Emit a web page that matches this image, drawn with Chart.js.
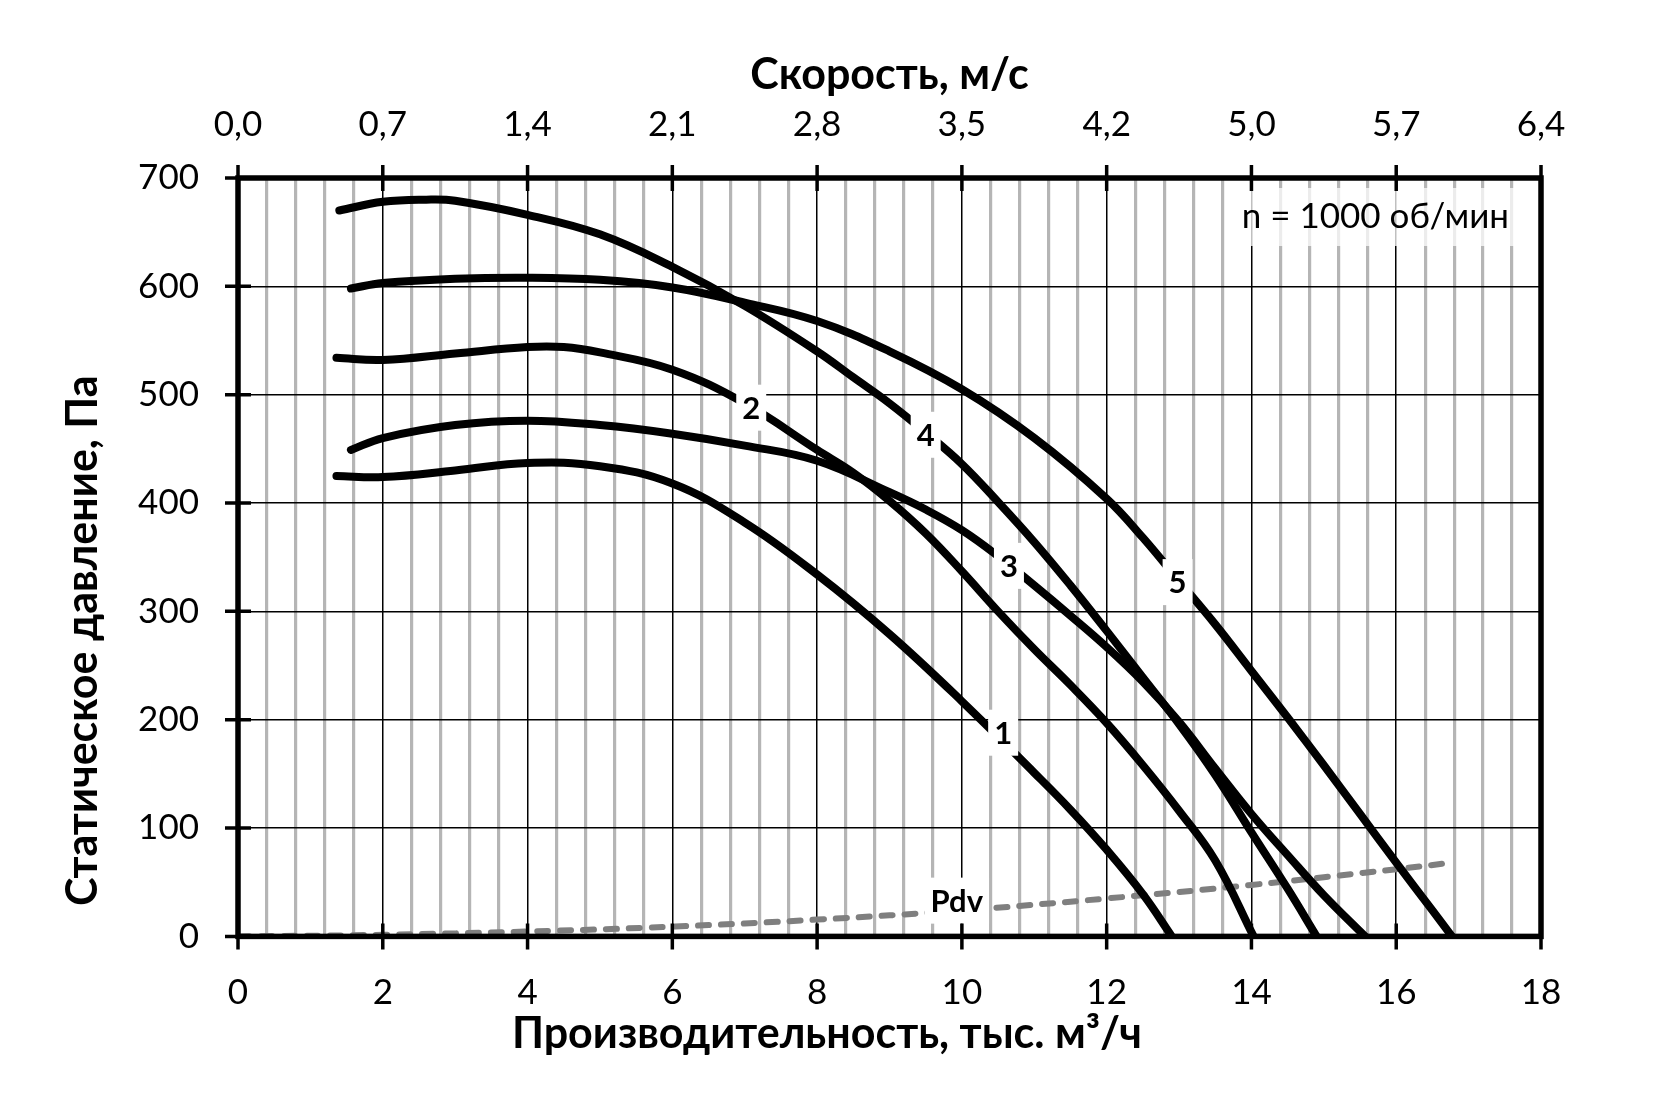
<!DOCTYPE html>
<html>
<head>
<meta charset="utf-8">
<script src="https://cdn.jsdelivr.net/npm/chart.js@4.4.1/dist/chart.umd.min.js"></script>
<style>
  html, body { margin: 0; padding: 0; background: #fff; }
  #wrap { width: 1654px; height: 1103px; }
</style>
</head>
<body>
<div id="wrap"><canvas id="fanChart" width="1654" height="1103"></canvas></div>
<script>
// flow, thousand m3/h  ->  static pressure, Pa
const q1 = [1.36, 2, 3, 4, 5, 6, 7, 8, 9, 10, 11, 11.5, 12, 12.5, 12.9];
const p1 = [425, 424, 430, 437, 434, 418, 382, 334, 279, 217, 151, 117, 80, 39, 0];

const q2 = [1.36, 2, 3, 4, 4.5, 5, 6, 7, 8, 8.5, 9, 9.5, 10, 10.5, 11, 11.5, 12, 12.5, 13, 13.5, 14.03];
const p2 = [534, 532, 538, 544, 544, 539, 523, 492, 449, 428, 402, 372, 337, 300, 265, 232, 197, 158, 116, 70, 0];

const q3 = [1.56, 2, 3, 4, 5, 6, 7, 8, 9, 9.5, 10, 10.5, 11, 11.5, 12, 12.5, 13, 13.5, 14, 14.5, 15, 15.57];
const p3 = [449, 460, 472, 476, 472, 464, 453, 439, 410, 394, 375, 351, 324, 296, 267, 235, 198, 155, 113, 75, 38, 0];

const q4 = [1.4, 2, 2.6, 3, 4, 5, 6, 7, 8, 8.5, 9, 9.5, 10, 10.5, 11, 11.5, 12, 12.5, 13, 13.5, 14, 14.5, 14.9];
const p4 = [670, 678, 680, 679, 666, 648, 618, 582, 540, 516, 492, 465, 436, 401, 364, 324, 282, 239, 196, 149, 96, 44, 0];

const q5 = [1.56, 2, 3, 4, 5, 6, 7, 8, 9, 10, 11, 12, 12.5, 13, 13.5, 14, 14.5, 15, 15.5, 16, 16.5, 16.77];
const p5 = [598, 603, 607, 608, 606, 599, 585, 568, 540, 505, 460, 404, 368, 328, 288, 245, 202, 158, 113, 68, 24, 0];

// dynamic pressure
const qPdv = [0, 2, 4, 6, 8, 10, 12, 14, 16, 16.7];
const pPdv = [0, 1.5, 4.5, 9, 15.5, 24, 35, 47.5, 62, 67.5];

// top axis: air speed, m/s
const speedTicks = ['0,0', '0,7', '1,4', '2,1', '2,8', '3,5', '4,2', '5,0', '5,7', '6,4'];

// curve captions
const captionText = ['1', '2', '3', '4', '5', 'Pdv'];
const captionQ = [10.57, 7.09, 10.65, 9.5, 12.98, 9.93];
const captionP = [188, 488, 342, 463, 327, 33];

const FONT = 'Lato, "Open Sans", sans-serif';

function points(q, p) {
    return q.map((v, i) => ({ x: v, y: p[i] }));
}

function isMajor(v) {
    return Math.abs(v / 2 - Math.round(v / 2)) < 1e-6;
}

function curve(q, p) {
    return {
        data: points(q, p),
        borderColor: '#000',
        borderWidth: 8,
        borderCapStyle: 'round',
        tension: 0.4,
        pointRadius: 0,
        clip: 0,
        xAxisID: 'x',
        yAxisID: 'y'
    };
}

// frame, cross ticks, captions on white boxes, y title
const decorations = {
    id: 'decorations',
    afterDatasetsDraw(chart) {
        const { ctx, chartArea: a, scales } = chart;
        const x = scales.x, y = scales.y;
        ctx.save();

        ctx.font = 'bold 31px ' + FONT;
        ctx.textAlign = 'center';
        ctx.textBaseline = 'middle';
        captionText.forEach((t, i) => {
            const px = x.getPixelForValue(captionQ[i]);
            const py = y.getPixelForValue(captionP[i]);
            const w = ctx.measureText(t).width + 12;
            ctx.fillStyle = '#fff';
            ctx.fillRect(px - w / 2, py - 23, w, 46);
            ctx.fillStyle = '#000';
            ctx.fillText(t, px, py + 1);
        });

        // speed note
        ctx.font = '35px ' + FONT;
        ctx.textAlign = 'right';
        const note = 'n = 1000 об/мин';
        const nw = ctx.measureText(note).width;
        const nx = a.right - 32, ny = a.top + 39;
        ctx.fillStyle = 'rgba(255,255,255,0.75)';
        ctx.fillRect(nx - nw - 12, ny - 29, nw + 28, 58);
        ctx.fillStyle = '#000';
        ctx.fillText(note, nx, ny);

        ctx.strokeStyle = '#000';
        ctx.lineWidth = 5.5;
        ctx.strokeRect(a.left, a.top, a.right - a.left, a.bottom - a.top);

        ctx.lineWidth = 3.5;
        ctx.beginPath();
        y.ticks.forEach(t => {
            const py = y.getPixelForValue(t.value);
            ctx.moveTo(a.left - 13, py);
            ctx.lineTo(a.left + 13, py);
        });
        scales.x2.ticks.forEach(t => {
            const px = x.getPixelForValue(t.value);
            ctx.moveTo(px, a.top - 13);
            ctx.lineTo(px, a.top + 13);
            ctx.moveTo(px, a.bottom - 13);
            ctx.lineTo(px, a.bottom + 13);
        });
        ctx.stroke();

        // y axis title sits a bit below the middle of the axis in the original
        ctx.translate(83, a.top + (a.bottom - a.top) * 0.61);
        ctx.rotate(-Math.PI / 2);
        ctx.font = 'bold 43px ' + FONT;
        ctx.textAlign = 'center';
        ctx.fillStyle = '#000';
        ctx.fillText('Статическое давление, Па', 0, 0);
        ctx.restore();
    }
};

const ctx = document.getElementById('fanChart').getContext('2d');
const fanChart = new Chart(ctx, {
    type: 'line',
    data: {
        datasets: [
            curve(q1, p1),
            curve(q2, p2),
            curve(q3, p3),
            curve(q4, p4),
            curve(q5, p5),
            {
                data: points(qPdv, pPdv),
                borderColor: '#7f7f7f',
                borderWidth: 6,
                borderDash: [11, 12],
                borderCapStyle: 'round',
                tension: 0.4,
                pointRadius: 0,
                clip: 0,
                xAxisID: 'x',
                yAxisID: 'y'
            }
        ]
    },
    options: {
        responsive: false,
        animation: false,
        devicePixelRatio: 1,
        layout: { padding: 0 },
        plugins: {
            legend: { display: false },
            tooltip: { enabled: false },
            title: {
                display: true,
                position: 'bottom',
                text: 'Производительность, тыс. м³/ч',
                color: '#000',
                font: { family: FONT, size: 43, weight: 'bold', lineHeight: 1.2 },
                padding: { top: 0, bottom: 43 }
            }
        },
        scales: {
            x: {
                type: 'linear',
                position: 'bottom',
                min: 0,
                max: 18,
                border: { display: false },
                grid: {
                    drawTicks: false,
                    color: c => isMajor(c.tick.value) ? '#000' : '#b5b5b5',
                    lineWidth: c => isMajor(c.tick.value) ? 1.5 : 3.2
                },
                ticks: {
                    stepSize: 0.4,
                    maxTicksLimit: 100,
                    autoSkip: false,
                    maxRotation: 0,
                    padding: 35,
                    color: '#000',
                    font: { family: FONT, size: 35 },
                    callback: v => isMajor(v) ? String(Math.round(v)) : ''
                },
                afterFit: s => { s.height = 72; }
            },
            x2: {
                type: 'linear',
                position: 'top',
                min: 0,
                max: 18,
                border: { display: false },
                grid: { display: false, drawTicks: false },
                ticks: {
                    stepSize: 2,
                    autoSkip: false,
                    maxRotation: 0,
                    padding: 32,
                    color: '#000',
                    font: { family: FONT, size: 35 },
                    callback: (v, i) => speedTicks[i]
                },
                title: {
                    display: true,
                    text: 'Скорость, м/с',
                    color: '#000',
                    font: { family: FONT, size: 43, weight: 'bold', lineHeight: 1.2 },
                    padding: { top: 49, bottom: 0 }
                },
                afterFit: s => { s.height = 178; }
            },
            y: {
                type: 'linear',
                min: 0,
                max: 700,
                border: { display: false },
                grid: { drawTicks: false, color: '#000', lineWidth: 1.5 },
                ticks: {
                    stepSize: 100,
                    padding: 39,
                    color: '#000',
                    font: { family: FONT, size: 35 }
                },
                afterFit: s => { s.width = 238; }
            },
            // empty right-hand strip so the bottom title centres on the whole picture
            yRight: {
                type: 'linear',
                position: 'right',
                border: { display: false },
                grid: { display: false, drawTicks: false },
                ticks: { display: false },
                afterFit: s => { s.width = 113; }
            }
        }
    },
    plugins: [decorations]
});
</script>
</body>
</html>
